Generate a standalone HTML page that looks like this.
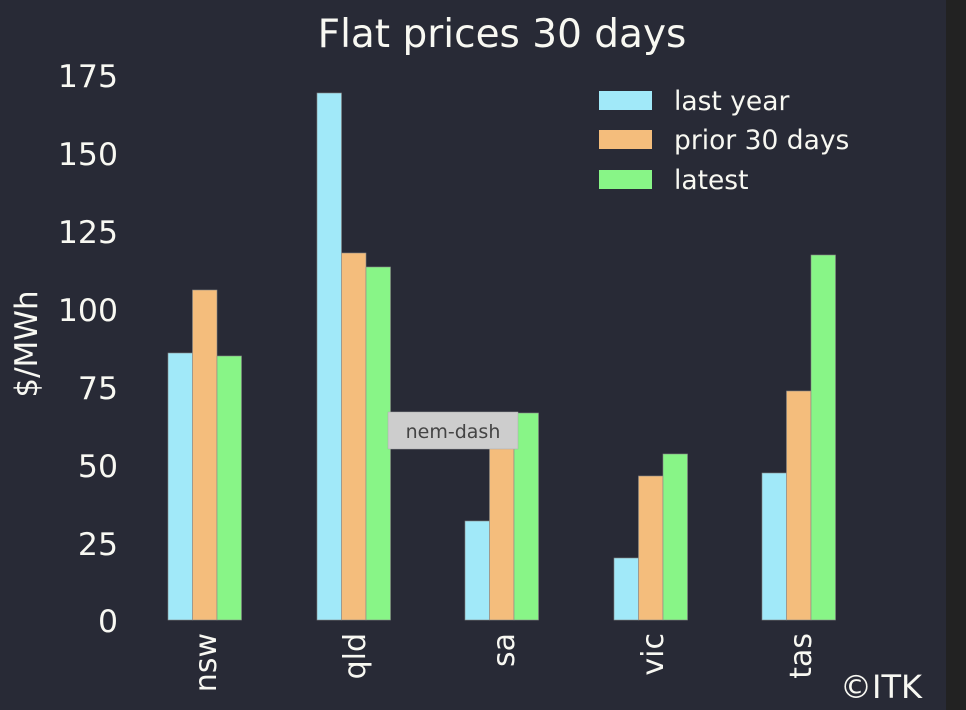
<!DOCTYPE html>
<html><head><style>
html,body{margin:0;padding:0;background:#282a36;}
svg{display:block;font-family:"DejaVu Sans","Liberation Sans",sans-serif;}
</style></head><body>
<svg width="966" height="710" viewBox="0 0 966 710">
<rect x="0" y="0" width="946" height="710" fill="#282a36"/>
<rect x="946" y="0" width="20" height="710" fill="#222222"/>
<text x="502" y="47" fill="#f8f8f2" font-size="39" text-anchor="middle">Flat prices 30 days</text>
<g fill="#f8f8f2" font-size="31.5" text-anchor="end">
<text x="118" y="632">0</text>
<text x="118" y="555">25</text>
<text x="118" y="477">50</text>
<text x="118" y="399">75</text>
<text x="118" y="321">100</text>
<text x="118" y="243">125</text>
<text x="118" y="165">150</text>
<text x="118" y="87">175</text>
</g>
<text transform="translate(37,344) rotate(-90)" fill="#f8f8f2" font-size="31" text-anchor="middle">$/MWh</text>
<g stroke="#888" stroke-width="0.6">
<rect x="168" y="353" width="24.5" height="267" fill="#a1e9f9"/>
<rect x="192.5" y="290" width="24.5" height="330" fill="#f4bd7c"/>
<rect x="217" y="356" width="24.5" height="264" fill="#88f587"/>
<rect x="317" y="93" width="24.5" height="527" fill="#a1e9f9"/>
<rect x="341.5" y="253" width="24.5" height="367" fill="#f4bd7c"/>
<rect x="366" y="267" width="24.5" height="353" fill="#88f587"/>
<rect x="465" y="521" width="24.5" height="99" fill="#a1e9f9"/>
<rect x="489.5" y="445" width="24.5" height="175" fill="#f4bd7c"/>
<rect x="514" y="413" width="24.5" height="207" fill="#88f587"/>
<rect x="614" y="558" width="24.5" height="62" fill="#a1e9f9"/>
<rect x="638.5" y="476" width="24.5" height="144" fill="#f4bd7c"/>
<rect x="663" y="454" width="24.5" height="166" fill="#88f587"/>
<rect x="762" y="473" width="24.5" height="147" fill="#a1e9f9"/>
<rect x="786.5" y="391" width="24.5" height="229" fill="#f4bd7c"/>
<rect x="811" y="255" width="24.5" height="365" fill="#88f587"/>
</g>
<g fill="#f8f8f2" font-size="30">
<text transform="translate(216,633) rotate(-90)" text-anchor="end">nsw</text>
<text transform="translate(365,633) rotate(-90)" text-anchor="end">qld</text>
<text transform="translate(514,633) rotate(-90)" text-anchor="end">sa</text>
<text transform="translate(663,633) rotate(-90)" text-anchor="end">vic</text>
<text transform="translate(811,633) rotate(-90)" text-anchor="end">tas</text>
</g>
<rect x="599" y="91" width="53" height="19" fill="#a1e9f9"/>
<rect x="599" y="130" width="53" height="19" fill="#f4bd7c"/>
<rect x="599" y="170" width="53" height="19" fill="#88f587"/>
<g fill="#f8f8f2" font-size="26.5">
<text x="674" y="110">last year</text>
<text x="674" y="149">prior 30 days</text>
<text x="674" y="189">latest</text>
</g>
<text x="922" y="698" fill="#f8f8f2" font-size="32" text-anchor="end">©ITK</text>
<rect x="388" y="412" width="130" height="37" fill="#cdcdcd" stroke="#aaa" stroke-width="0.5"/>
<text x="453" y="438" fill="#444" font-size="19" text-anchor="middle">nem-dash</text>
</svg>
</body></html>
